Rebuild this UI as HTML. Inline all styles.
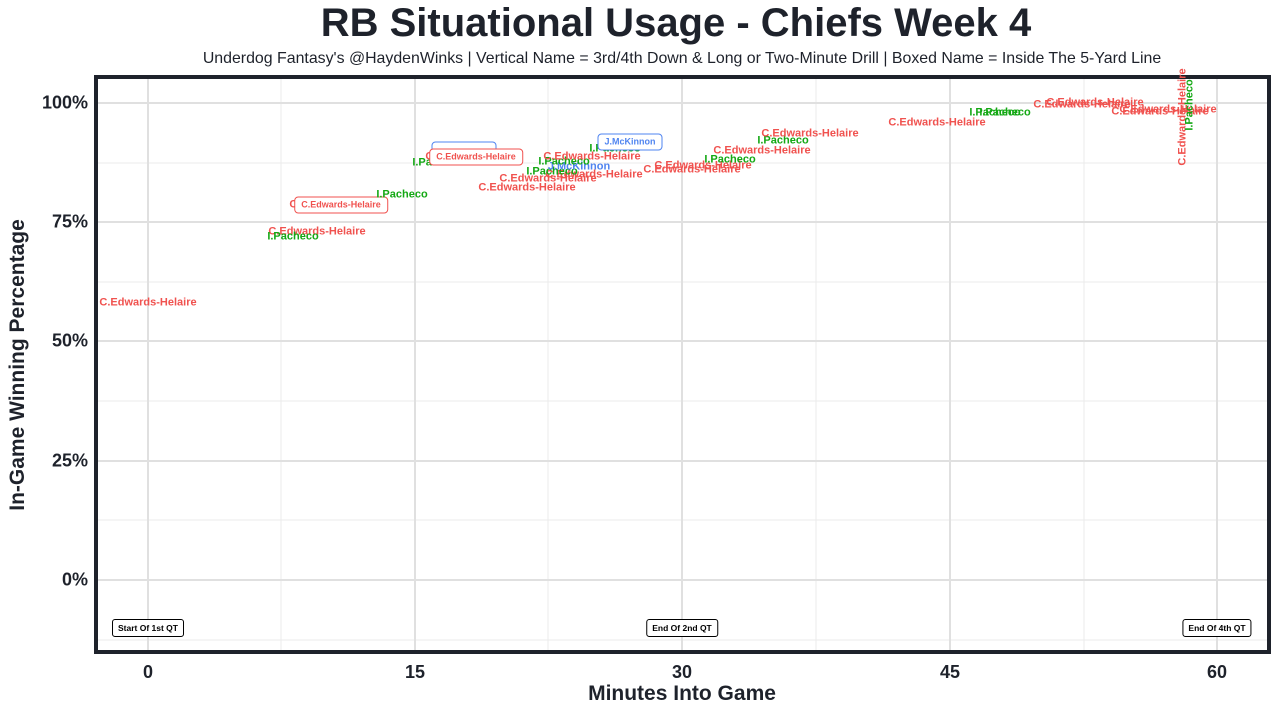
<!DOCTYPE html>
<html><head><meta charset="utf-8"><style>
body{margin:0;width:1280px;height:715px;background:#fff;font-family:"Liberation Sans",sans-serif;position:relative;overflow:hidden;color:#1e222b}
.t{position:absolute;white-space:nowrap;font-weight:bold;font-size:11px;transform:translate(-50%,-50%);line-height:1}
.r{color:#f0524f}.g{color:#14a814}.b{color:#4f84f0}
.bx{background:#fff;border:1px solid;border-radius:4px;padding:3px 6px;font-size:9px}
.q{position:absolute;transform:translate(-50%,-50%);font-size:8.5px;font-weight:bold;border:1px solid #000;border-radius:3px;padding:3px 5px;background:#fff;white-space:nowrap;color:#000}
.v{transform:translate(-50%,-50%) rotate(-90deg)}
.yl{position:absolute;right:1192px;font-size:18px;font-weight:bold;transform:translateY(-50%)}
.xl{position:absolute;top:662px;font-size:18px;font-weight:bold;transform:translateX(-50%)}
</style></head><body>
<div style="position:absolute;top:1px;left:676px;transform:translateX(-50%);white-space:nowrap;font-size:40px;font-weight:bold">RB Situational Usage - Chiefs Week 4</div>
<div style="position:absolute;top:50px;left:682px;transform:translateX(-50%);white-space:nowrap;font-size:15.9px">Underdog Fantasy's @HaydenWinks | Vertical Name = 3rd/4th Down &amp; Long or Two-Minute Drill | Boxed Name = Inside The 5-Yard Line</div>
<svg style="position:absolute;left:0;top:0" width="1280" height="715">
<g stroke="#ebebeb" stroke-width="1">
<line x1="97" x2="1268" y1="163" y2="163"/><line x1="97" x2="1268" y1="282" y2="282"/><line x1="97" x2="1268" y1="401" y2="401"/><line x1="97" x2="1268" y1="520" y2="520"/><line x1="97" x2="1268" y1="640" y2="640"/>
<line y1="78" y2="650" x1="281" x2="281"/><line y1="78" y2="650" x1="548" x2="548"/><line y1="78" y2="650" x1="816" x2="816"/><line y1="78" y2="650" x1="1084" x2="1084"/>
</g>
<g stroke="#e0e0e0" stroke-width="2">
<line x1="97" x2="1268" y1="103" y2="103"/><line x1="97" x2="1268" y1="222" y2="222"/><line x1="97" x2="1268" y1="341" y2="341"/><line x1="97" x2="1268" y1="461" y2="461"/><line x1="97" x2="1268" y1="580" y2="580"/>
<line y1="78" y2="650" x1="148" x2="148"/><line y1="78" y2="650" x1="415" x2="415"/><line y1="78" y2="650" x1="682" x2="682"/><line y1="78" y2="650" x1="950" x2="950"/><line y1="78" y2="650" x1="1217" x2="1217"/>
</g>
<rect x="96" y="77" width="1173" height="575" fill="none" stroke="#1e222b" stroke-width="4"/>
</svg>
<div class="yl" style="top:103px">100%</div><div class="yl" style="top:222px">75%</div><div class="yl" style="top:341px">50%</div><div class="yl" style="top:461px">25%</div><div class="yl" style="top:580px">0%</div>
<div class="xl" style="left:148px">0</div><div class="xl" style="left:415px">15</div><div class="xl" style="left:682px">30</div><div class="xl" style="left:950px">45</div><div class="xl" style="left:1217px">60</div>
<div style="position:absolute;top:682px;left:682px;transform:translateX(-50%);font-size:21px;font-weight:bold;white-space:nowrap">Minutes Into Game</div>
<div style="position:absolute;left:18px;top:365px;transform:translate(-50%,-50%) rotate(-90deg);font-size:21px;font-weight:bold;white-space:nowrap">In-Game Winning Percentage</div>

<div class="t r" style="left:148px;top:303px">C.Edwards-Helaire</div>
<div class="t r" style="left:317px;top:232px">C.Edwards-Helaire</div>
<div class="t g" style="left:293px;top:237px">I.Pacheco</div>
<div class="t r" style="left:338px;top:205px">C.Edwards-Helaire</div>
<div class="t r bx" style="left:341px;top:205px">C.Edwards-Helaire</div>
<div class="t g" style="left:402px;top:195px">I.Pacheco</div>
<div class="t g" style="left:438px;top:163px">I.Pacheco</div>
<div class="t b bx" style="left:464px;top:150px;color:transparent;border-color:#4f84f0">J.McKinnon</div>
<div class="t r" style="left:474px;top:157px">C.Edwards-Helaire</div>
<div class="t r bx" style="left:476px;top:157px">C.Edwards-Helaire</div>
<div class="t r" style="left:527px;top:188px">C.Edwards-Helaire</div>
<div class="t r" style="left:548px;top:179px">C.Edwards-Helaire</div>
<div class="t r" style="left:594px;top:175px">C.Edwards-Helaire</div>
<div class="t g" style="left:552px;top:172px">I.Pacheco</div>
<div class="t b" style="left:579px;top:167px">J.McKinnon</div>
<div class="t g" style="left:564px;top:162px">I.Pacheco</div>
<div class="t r" style="left:592px;top:157px">C.Edwards-Helaire</div>
<div class="t g" style="left:615px;top:149px">I.Pacheco</div>
<div class="t b bx" style="left:630px;top:142px">J.McKinnon</div>
<div class="t r" style="left:692px;top:170px">C.Edwards-Helaire</div>
<div class="t r" style="left:703px;top:166px">C.Edwards-Helaire</div>
<div class="t g" style="left:730px;top:160px">I.Pacheco</div>
<div class="t r" style="left:762px;top:151px">C.Edwards-Helaire</div>
<div class="t g" style="left:783px;top:141px">I.Pacheco</div>
<div class="t r" style="left:810px;top:134px">C.Edwards-Helaire</div>
<div class="t r" style="left:937px;top:123px">C.Edwards-Helaire</div>
<div class="t g" style="left:995px;top:113px">I.Pacheco</div>
<div class="t g" style="left:1005px;top:113px">I.Pacheco</div>
<div class="t r" style="left:1082px;top:105px">C.Edwards-Helaire</div>
<div class="t r" style="left:1095px;top:103px">C.Edwards-Helaire</div>
<div class="t r" style="left:1160px;top:112px">C.Edwards-Helaire</div>
<div class="t r" style="left:1168px;top:110px">C.Edwards-Helaire</div>
<div class="t r v" style="left:1183px;top:117px">C.Edwards-Helaire</div>
<div class="t g v" style="left:1190px;top:105px">I.Pacheco</div>

<div class="q" style="left:148px;top:628px">Start Of 1st QT</div>
<div class="q" style="left:682px;top:628px">End Of 2nd QT</div>
<div class="q" style="left:1217px;top:628px">End Of 4th QT</div>
</body></html>
